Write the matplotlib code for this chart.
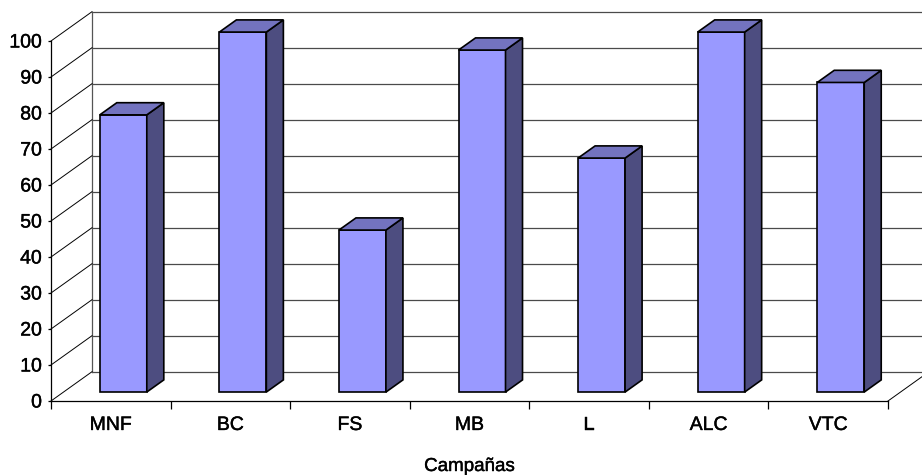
import matplotlib
matplotlib.use('Agg')
import matplotlib.pyplot as plt
import matplotlib.patheffects as pe
from matplotlib.patches import Polygon
import numpy as np

campanas = ['MNF', 'BC', 'FS', 'MB', 'L', 'ALC', 'VTC']
valores = [77, 100, 45, 95, 65, 100, 86]
yticks = list(range(0, 101, 10))

plt.rcParams['font.family'] = ['Liberation Sans', 'DejaVu Sans']

fig = plt.figure(figsize=(9.22, 4.75), dpi=100)
# ejes = plano frontal del grafico 3D
ax = fig.add_axes([51/922, 74/475, 837/922, 360/475])
ax.set_xlim(0, len(campanas))
ax.set_ylim(0, 100)

# profundidad oblicua en unidades de datos
DX = 41 / (837 / 7)
DY = 29.3 / 3.6
d0, d1 = 0.305, 0.72
hw = 0.393 / 2

def p(x, y, d):
    return (x + d * DX, y + d * DY)

# pared del fondo
for v in yticks:
    ax.plot([p(0, v, 1)[0], p(7, v, 1)[0]], [v + DY, v + DY], color='#4a4a4a', lw=0.9, clip_on=False, zorder=1)
ax.plot([DX, DX], [DY, 100 + DY], color='#555555', lw=0.9, clip_on=False, zorder=1)
# pared izquierda
for v in yticks:
    ax.plot([0, DX], [v, v + DY], color='black', lw=0.7, clip_on=False, zorder=1)
# suelo
ax.plot([7, 7 + DX], [0, DY], color='black', lw=0.7, clip_on=False, zorder=1)

x = np.arange(len(campanas)) + 0.5
ax.bar(x + d0 * DX, valores, width=2 * hw, bottom=d0 * DY, color='#9999FF',
       edgecolor='black', linewidth=1.2, zorder=3, clip_on=False)
for c, v in zip(x, valores):
    lado = [p(c + hw, 0, d0), p(c + hw, 0, d1), p(c + hw, v, d1), p(c + hw, v, d0)]
    tapa = [p(c - hw, v, d0), p(c - hw, v, d1), p(c + hw, v, d1), p(c + hw, v, d0)]
    ax.add_patch(Polygon(lado, closed=True, facecolor='#4D4D80', edgecolor='black',
                         lw=1.2, zorder=3, clip_on=False, joinstyle='miter'))
    ax.add_patch(Polygon(tapa, closed=True, facecolor='#7373BF', edgecolor='black',
                         lw=1.2, zorder=3, clip_on=False, joinstyle='miter'))

for s in ['top', 'right']:
    ax.spines[s].set_visible(False)
for s in ['left', 'bottom']:
    ax.spines[s].set_linewidth(0.9)
    ax.spines[s].set_zorder(4)

ax.set_yticks(yticks)
ax.tick_params(axis='y', length=2.5, width=0.9, pad=4, labelsize=14)
ax.set_xticks(np.arange(len(campanas) + 1))
ax.set_xticklabels([])
ax.set_xticks(x, minor=True)
ax.set_xticklabels(campanas, minor=True)
ax.tick_params(axis='x', which='major', length=6, width=0.9)
ax.tick_params(axis='x', which='minor', length=0, pad=11.5, labelsize=14)

grueso = [pe.withStroke(linewidth=0.3, foreground='black')]
for t in ax.get_yticklabels() + ax.get_xticklabels(minor=True):
    t.set_path_effects(grueso)

fig.text(469.5/922, (475 - 471)/475, 'Campañas', ha='center', va='baseline',
         fontsize=13.5, path_effects=grueso)

fig.savefig('out.png', dpi=100)
